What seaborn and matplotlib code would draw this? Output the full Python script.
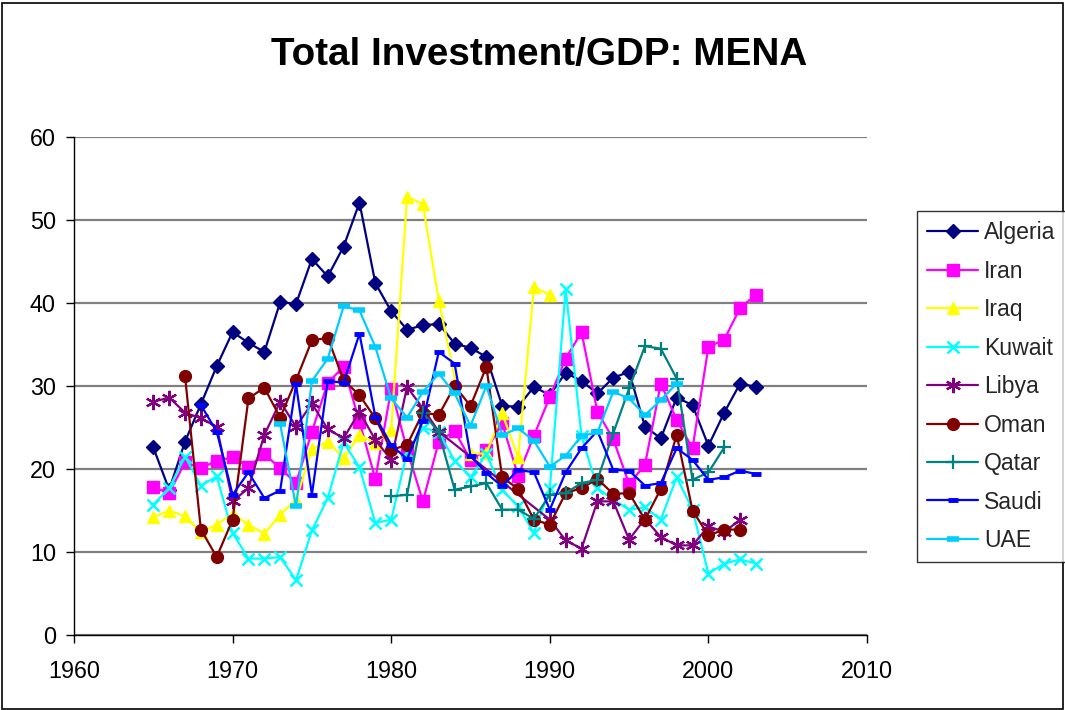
import numpy as np
import pandas as pd
import matplotlib
matplotlib.use("Agg")
import matplotlib.pyplot as plt
import seaborn as sns
from matplotlib.patches import Rectangle

N = None
years = list(range(1965, 2004))

algeria = [22.6, 17.5, 23.3, 27.8, 32.4, 36.5, 35.2, 34.1, 40.1, 39.9,
           45.3, 43.2, 46.8, 52.1, 42.4, 39.0, 36.8, 37.3, 37.5, 35.1,
           34.6, 33.5, 27.6, 27.5, 29.9, 28.9, 31.6, 30.6, 29.1, 31.0,
           31.7, 25.1, 23.7, 28.6, 27.7, 22.8, 26.8, 30.3, 29.9]
iran = [17.8, 17.1, 20.8, 20.1, 21.0, 21.4, 20.3, 21.8, 20.1, 18.3,
        24.5, 30.4, 32.3, 25.7, 18.8, 29.6, 22.3, 16.1, 23.3, 24.6,
        21.1, 22.3, 25.5, 19.2, 24.0, 28.7, 33.3, 36.5, 26.9, 23.6,
        18.2, 20.5, 30.3, 25.9, 22.5, 34.7, 35.6, 39.4, 41.0]
iraq = [14.2, 15.0, 14.3, 12.4, 13.3, 14.6, 13.3, 12.2, 14.5, 16.3,
        22.4, 23.3, 21.3, 24.1, 23.1, 24.7, 52.8, 51.9, 40.3, N,
        21.8, 21.9, 26.7, 21.4, 41.9, 41.0, N, N, N, N,
        N, N, N, N, N, N, N, N, N]
kuwait = [15.7, 17.7, 21.5, 18.0, 19.1, 12.3, 9.2, 9.2, 9.4, 6.6,
          12.6, 16.5, 23.2, 20.2, 13.5, 13.9, 22.0, 25.0, 24.4, 21.0,
          19.0, 21.8, 17.5, 15.5, 12.3, 17.6, 41.7, 24.0, 17.7, 16.3,
          15.1, 15.4, 13.9, 19.0, 15.1, 7.4, 8.6, 9.1, 8.6]
libya = [28.1, 28.6, 26.8, 26.1, 25.1, 16.1, 17.7, 24.1, 28.1, 25.1,
         27.9, 24.8, 23.7, 26.9, 23.5, 21.1, 29.9, 27.3, 24.5, N,
         N, N, N, N, N, 13.9, 11.4, 10.4, 16.1, 16.1,
         11.5, 14.0, 11.8, 10.8, 10.8, 13.1, 12.4, 13.9, N]
oman = [N, N, 31.2, 12.7, 9.4, 13.9, 28.5, 29.8, 26.2, 30.7,
        35.5, 35.8, 30.7, 28.9, 26.1, 22.3, 22.9, 26.8, 26.5, 30.0,
        27.6, 32.3, 19.0, 17.6, 13.9, 13.3, 17.1, 17.7, 18.8, 17.0,
        17.1, 13.9, 17.6, 24.1, 15.0, 12.0, 12.7, 12.7, N]
qatar = [N, N, N, N, N, N, N, N, N, N,
         N, N, N, N, N, 16.7, 16.9, 26.8, 24.4, 17.5,
         17.9, 18.3, 15.1, 15.1, 14.0, 16.9, 17.1, 18.3, 18.7, 24.3,
         29.7, 34.8, 34.5, 30.9, 18.7, 19.6, 22.6, N, N]
saudi = [N, N, N, 27.7, 24.5, 16.9, 19.6, 16.5, 17.4, 30.2,
         16.9, 30.6, 30.4, 36.3, 26.3, 22.9, 21.2, 25.8, 34.1, 32.7,
         21.6, 19.5, 17.9, 19.9, 19.6, 15.1, 19.6, 22.5, 24.6, 19.9,
         19.8, 18.0, 18.3, 22.5, 21.1, 18.7, 19.0, 19.8, 19.4]
uae = [N, N, N, N, N, N, N, N, 25.4, 15.5,
       30.6, 33.3, 39.6, 39.1, 34.7, 28.5, 26.2, 29.3, 31.5, 29.1,
       25.2, 30.0, 24.1, 24.9, 23.4, 20.3, 21.6, 24.0, 24.4, 29.3,
       28.5, 26.5, 28.3, 30.3, N, N, N, N, N]

countries = ["Algeria", "Iran", "Iraq", "Kuwait", "Libya", "Oman", "Qatar", "Saudi", "UAE"]
series = [algeria, iran, iraq, kuwait, libya, oman, qatar, saudi, uae]

colors = {"Algeria": "#000080", "Iran": "#FF00FF", "Iraq": "#FFFF00",
          "Kuwait": "#00FFFF", "Libya": "#800080", "Oman": "#800000",
          "Qatar": "#008080", "Saudi": "#0000FF", "UAE": "#00CCFF"}
markers = {"Algeria": "D", "Iran": "s", "Iraq": "^", "Kuwait": "x",
           "Libya": (6, 2, 0), "Oman": "o", "Qatar": "+", "Saudi": "_", "UAE": "_"}
msizes = {"Algeria": 7.5, "Iran": 8.5, "Iraq": 9, "Kuwait": 8.5, "Libya": 11,
          "Oman": 8.5, "Qatar": 10, "Saudi": 7, "UAE": 8}
mews = {"Algeria": 1, "Iran": 1, "Iraq": 1, "Kuwait": 1.8, "Libya": 1.6,
        "Oman": 1, "Qatar": 1.6, "Saudi": 3.5, "UAE": 4}

frames = []
for c, vals in zip(countries, series):
    frames.append(pd.DataFrame({"Year": years, "Value": vals, "Country": c}))
df = pd.concat(frames, ignore_index=True)
df["Value"] = pd.to_numeric(df["Value"])

sns.set_style("white")
plt.rcParams["font.family"] = ["Liberation Sans", "DejaVu Sans"]

fig = plt.figure(figsize=(10.65, 7.1), dpi=100)
ax = fig.add_axes([74 / 1065, 1 - 635 / 710, (867 - 74) / 1065, (635 - 137) / 710])

for c in countries:
    sub = df[df["Country"] == c].dropna()
    sns.lineplot(data=sub, x="Year", y="Value", ax=ax, color=colors[c],
                 marker=markers[c], markersize=msizes[c], markeredgewidth=mews[c],
                 markeredgecolor=colors[c], linewidth=1.6, label=c,
                 estimator=None, sort=True)

ax.set_xlim(1960, 2010)
ax.set_ylim(0, 60)
ax.set_xticks(range(1960, 2011, 10))
ax.set_yticks(range(0, 61, 10))
ax.set_xlabel("")
ax.set_ylabel("")
ax.yaxis.grid(True, color="#808080", linewidth=1.6)
ax.xaxis.grid(False)
ax.set_axisbelow(True)
for s in ["top", "right"]:
    ax.spines[s].set_visible(False)
for s in ["left", "bottom"]:
    ax.spines[s].set_color("black")
    ax.spines[s].set_linewidth(1.0)
ax.tick_params(axis="both", direction="out", length=6, width=1, color="black",
               labelsize=16.8, labelcolor="black", left=True, bottom=True)
ax.tick_params(axis="x", pad=12)
ax.tick_params(axis="y", pad=7)

ax.get_legend().remove()
handles, labels = ax.get_legend_handles_labels()
leg = fig.legend(handles, labels, loc="upper left",
                 bbox_to_anchor=(917 / 1065, 1 - 211 / 710),
                 frameon=True, fancybox=False, edgecolor="black",
                 fontsize=16.6, handlelength=2.2, handletextpad=0.25,
                 labelspacing=0.67, borderpad=0.45, borderaxespad=0)
leg.get_frame().set_linewidth(1.0)

fig.text(0.506, 1 - 55 / 710, "Total Investment/GDP: MENA", ha="center", va="center",
         fontsize=27.8, fontweight="bold", color="black")

fig.patches.append(Rectangle((0.002, 0.002), 0.996, 0.994, transform=fig.transFigure,
                             fill=False, edgecolor="black", linewidth=1.2))

fig.savefig("out.png", dpi=100)
